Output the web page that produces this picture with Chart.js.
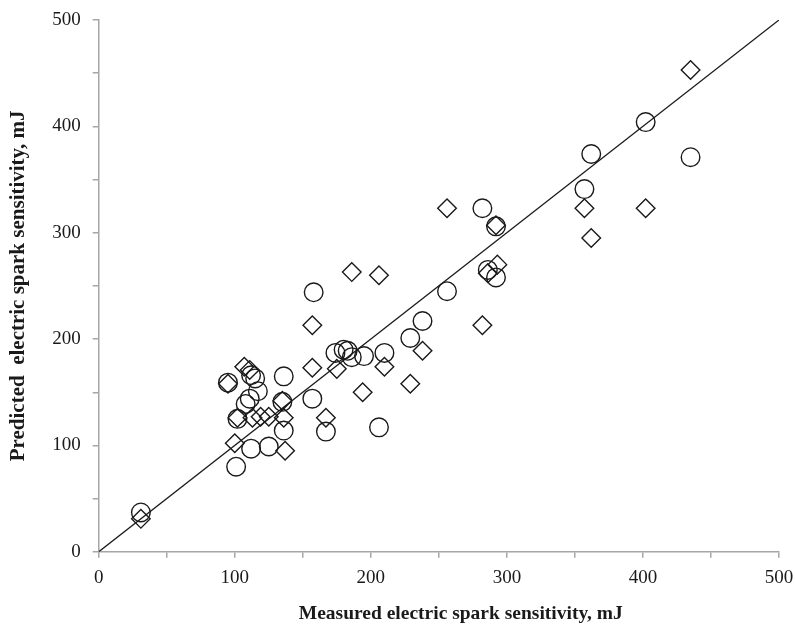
<!DOCTYPE html>
<html>
<head>
<meta charset="utf-8">
<script src="https://cdn.jsdelivr.net/npm/chart.js@4/dist/chart.umd.min.js"></script>
<style>
  body { margin: 0; background: #fff; }
  #wrap { width: 795px; height: 640px; }
</style>
</head>
<body>
<div id="wrap"><canvas id="myChart" width="795" height="640"></canvas></div>
<script>
// model 1 (circles): measured vs predicted, mJ
const circleX = [31, 95, 102, 101, 108, 111, 117, 112, 115, 112, 125, 136, 135, 136, 157, 158, 167, 174, 180, 183, 186, 195, 210, 206, 229, 238, 256, 282, 286, 292, 292, 357, 362, 402, 435];
const circleY = [37, 159, 125, 80, 139, 144, 151, 166, 163, 97, 99, 165, 141, 114, 144, 244, 113, 187, 190, 189, 183, 184, 187, 117, 201, 217, 245, 323, 265, 258, 306, 341, 374, 404, 371];

// model 2 (diamonds)
const diamondX = [31, 95, 100, 107, 111, 102, 113, 119, 125, 135, 136, 137, 157, 157, 167, 175, 186, 206, 194, 210, 229, 238, 256, 282, 286, 293, 292, 357, 362, 402, 435];
const diamondY = [31, 158, 102, 174, 171, 126, 126, 127, 127, 142, 126, 95, 213, 173, 126, 172, 263, 260, 150, 174, 158, 189, 323, 213, 262, 270, 307, 323, 295, 323, 453];

// y = x reference line
const lineX = [0, 500];
const lineY = [0, 500];

const toPts = (xs, ys) => xs.map((x, i) => ({ x: x, y: ys[i] }));

const axisGray = "#a6a6a6";
const serif = "'Liberation Serif', 'Times New Roman', serif";
// title sits a bit right of the plot centre in the original
const xTitle = "\u00a0".repeat(9) + "Measured electric spark sensitivity, mJ";

new Chart("myChart", {
    type: "scatter",
    data: {
        datasets: [{
            data: toPts(lineX, lineY),
            showLine: true,
            borderColor: "#1a1a1a",
            borderWidth: 1.3,
            pointRadius: 0
        }, {
            data: toPts(circleX, circleY),
            pointStyle: "circle",
            pointRadius: 9.3,
            pointBorderWidth: 1.4,
            borderColor: "#1a1a1a",
            backgroundColor: "rgba(0,0,0,0)"
        }, {
            data: toPts(diamondX, diamondY),
            pointStyle: "rectRot",
            pointRadius: 9.3,
            pointBorderWidth: 1.4,
            borderColor: "#1a1a1a",
            backgroundColor: "rgba(0,0,0,0)"
        }]
    },
    options: {
        responsive: false,
        devicePixelRatio: 1,
        animation: false,
        layout: { padding: { left: 0, right: 0, top: 20, bottom: 10 } },
        plugins: {
            legend: { display: false },
            tooltip: { enabled: false }
        },
        scales: {
            x: {
                type: "linear",
                min: 0,
                max: 500,
                afterFit: s => { s.paddingRight = 16; },
                border: { color: axisGray, width: 1.5 },
                grid: { drawOnChartArea: false, color: axisGray, tickLength: 6, lineWidth: 1.5 },
                ticks: {
                    stepSize: 50,
                    autoSkip: false,
                    maxRotation: 0,
                    color: "#1a1a1a",
                    font: { family: serif, size: 19 },
                    padding: 9,
                    callback: v => (v % 100 === 0 ? v : "")
                },
                title: {
                    display: true,
                    text: xTitle,
                    color: "#1a1a1a",
                    font: { family: serif, size: 19.5, weight: "bold" },
                    padding: { top: 4, bottom: 4 }
                }
            },
            y: {
                type: "linear",
                min: 0,
                max: 500,
                afterFit: s => { s.paddingTop = 0; s.paddingBottom = 0; },
                border: { color: axisGray, width: 1.5 },
                grid: { drawOnChartArea: false, color: axisGray, tickLength: 6, lineWidth: 1.5 },
                ticks: {
                    stepSize: 50,
                    autoSkip: false,
                    color: "#1a1a1a",
                    font: { family: serif, size: 19 },
                    padding: 12,
                    callback: v => (v % 100 === 0 ? v : "")
                },
                title: {
                    display: true,
                    text: "Predicted  electric spark sensitivity, mJ",
                    color: "#1a1a1a",
                    font: { family: serif, size: 21, weight: "bold" },
                    padding: { top: 6, bottom: 9 }
                }
            }
        }
    }
});
</script>
</body>
</html>
